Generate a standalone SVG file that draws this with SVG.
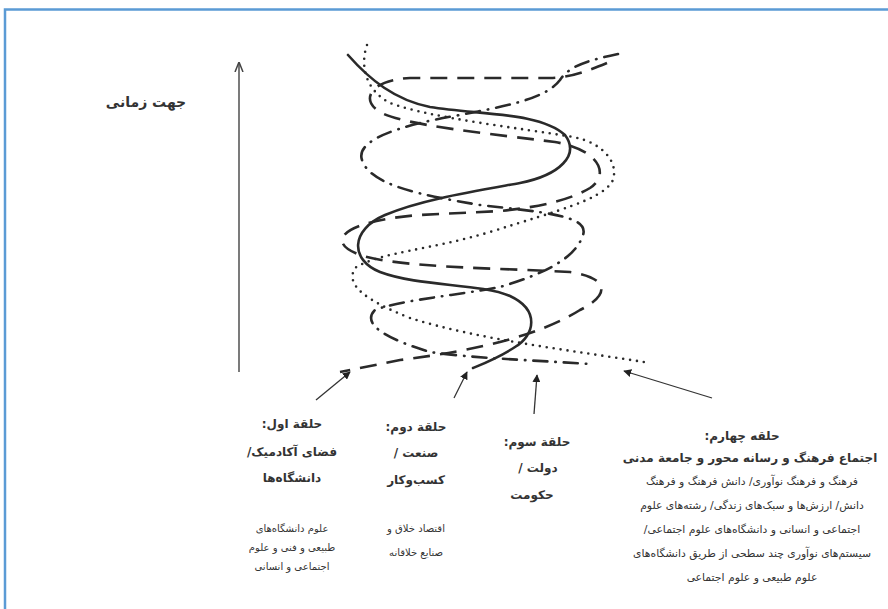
<svg xmlns="http://www.w3.org/2000/svg" width="888" height="609" viewBox="0 0 888 609">
<style>
.frame{fill:none;stroke:#5b9bd5;stroke-width:2.5}
.c{fill:none;stroke:#2a2a2a;stroke-width:2.6;stroke-linecap:round}
.solid{}
.dash{stroke-dasharray:17 10;stroke-linecap:butt}
.dot{stroke-dasharray:0 7}
.dd{stroke-dasharray:14 8 0.5 8}
.arr{fill:none;stroke:#333;stroke-width:1.3}
.t{font-family:"DejaVu Sans",sans-serif;fill:#333;direction:rtl;text-anchor:middle}
.h{font-size:12px;font-weight:bold}
.s{font-size:10px}
.s4{font-size:10.8px}
</style>
<defs>
<marker id="ah" viewBox="0 0 10 10" refX="9" refY="5" markerWidth="8" markerHeight="8" orient="auto" markerUnits="userSpaceOnUse">
<path d="M0,0 L10,5 L0,10 z" fill="#222"/>
</marker>
<marker id="ah2" viewBox="0 0 10 10" refX="9" refY="5" markerWidth="10" markerHeight="10" orient="auto" markerUnits="userSpaceOnUse">
<path d="M0,1 L10,5 L0,9" fill="none" stroke="#444" stroke-width="1.5"/>
</marker>
</defs>
<rect width="888" height="609" fill="#fff"/>
<path class="frame" d="M5,609 L5,9.5 L888,9.5"/>
<g id="time-axis">
<line class="arr" x1="239" y1="372" x2="239" y2="63" stroke="#777" stroke-width="2" marker-end="url(#ah2)"/>
<text class="t h" x="146" y="107" style="font-size:14px">جهت زمانی</text>
</g>
<g id="connectors">
<path id="helix-dash" class="c dash" d="M607,63 C590,70 570,78 550,78 L410,78 C370,80 360,100 380,112 C400,125 500,135 555,142 C600,150 610,175 590,188 C570,200 540,207 500,211 L420,215 C350,220 320,240 360,255 C400,268 500,268 570,272 C610,278 610,295 580,310 C540,335 480,350 400,360 L340,372"/>
<path id="helix-dashdot" class="c dd" d="M618,54 C590,60 570,65 560,80 C545,100 500,107 460,115 C400,125 355,140 362,160 C370,185 420,195 480,205 C540,212 590,215 583,235 C575,260 540,275 500,287 C460,295 400,300 375,310 C360,325 390,340 430,352 C470,358 530,360 590,364"/>
<path id="helix-solid" class="c solid" d="M348,55 C370,80 395,100 430,107 C480,115 540,112 565,135 C580,155 560,175 520,183 C470,192 420,200 385,215 C350,230 350,260 380,272 C420,287 480,283 510,296 C540,310 535,335 515,347 C500,357 485,363 473,368"/>
<path id="helix-dot" class="c dot" d="M367,45 C360,65 365,90 390,103 C430,118 520,128 573,137 C605,143 620,165 612,182 C600,200 560,210 490,232 C430,250 380,252 355,268 C345,285 365,300 410,318 C480,340 570,350 650,363"/>
<line class="arr" x1="316" y1="400" x2="350" y2="372" marker-end="url(#ah)"/>
<line class="arr" x1="454" y1="398" x2="467" y2="372" marker-end="url(#ah)"/>
<line class="arr" x1="534" y1="414" x2="537" y2="375" marker-end="url(#ah)"/>
<line class="arr" x1="712" y1="398" x2="624" y2="371" marker-end="url(#ah)"/>
</g>
<g id="ring1">
<text class="t h" x="292" y="428">حلقة اول:</text>
<text class="t h" x="292" y="456">فضای آکادمیک/</text>
<text class="t h" x="292" y="482">دانشگاه‌ها</text>
<text class="t s" x="292" y="532">علوم دانشگاه‌های</text>
<text class="t s" x="292" y="551">طبیعی و فنی و علوم</text>
<text class="t s" x="292" y="570">اجتماعی و انسانی</text>
</g>
<g id="ring2">
<text class="t h" x="416" y="431">حلقة دوم:</text>
<text class="t h" x="416" y="457">صنعت /</text>
<text class="t h" x="416" y="484">کسب‌وکار</text>
<text class="t s" x="416" y="532">اقتصاد خلاق و</text>
<text class="t s" x="416" y="556">صنایع خلاقانه</text>
</g>
<g id="ring3">
<text class="t h" x="537" y="446">حلقة سوم:</text>
<text class="t h" x="538" y="472">دولت /</text>
<text class="t h" x="532" y="499">حکومت</text>
</g>
<g id="ring4">
<text class="t h" x="742" y="440">حلقه چهارم:</text>
<text class="t h" x="750" y="462">اجتماع فرهنگ و رسانه محور و جامعة مدنی</text>
<text class="t s4" x="752" y="485">فرهنگ و فرهنگ نوآوری/ دانش فرهنگ و فرهنگ</text>
<text class="t s4" x="752" y="509">دانش/ ارزش‌ها و سبک‌های زندگی/ رشته‌های علوم</text>
<text class="t s4" x="752" y="533">اجتماعی و انسانی و دانشگاه‌های علوم اجتماعی/</text>
<text class="t s4" x="752" y="557">سیستم‌های نوآوری چند سطحی از طریق دانشگاه‌های</text>
<text class="t s4" x="752" y="581">علوم طبیعی و علوم اجتماعی</text>
</g>
</svg>
